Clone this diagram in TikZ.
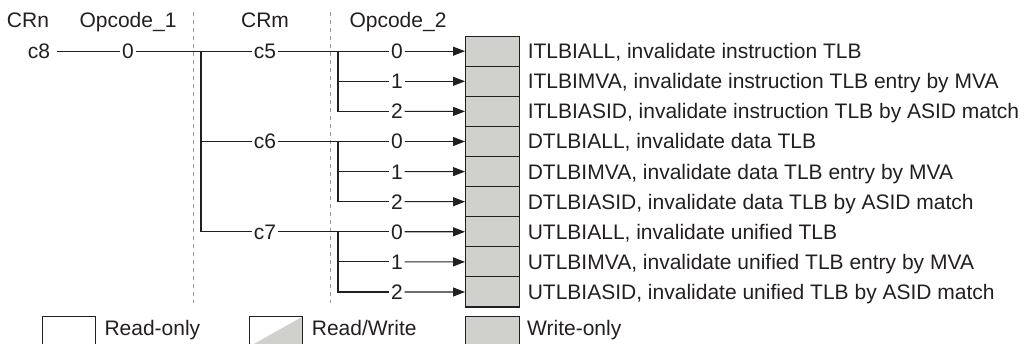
\documentclass[tikz,border=0pt]{standalone}
\usepackage{fontspec}
\setmainfont{Liberation Sans}
\usetikzlibrary{positioning, arrows.meta}

\definecolor{regfill}{RGB}{208,208,204}
\definecolor{ink}{RGB}{35,31,32}

\begin{document}
\begin{tikzpicture}[x=1pt,y=-1pt,
  every node/.style={font=\fontsize{21}{25}\selectfont, text=ink,
                     text height=15pt, text depth=0pt},
  wire/.style={draw=ink, line width=1.1pt},
  arr/.style={wire, -{Triangle[length=12pt,width=9pt]}},
  lbl/.style={inner xsep=1.5pt, inner ysep=0pt},
  cell/.style={draw=ink, line width=1.1pt, fill=regfill, inner sep=0pt,
               minimum width=53.5pt, minimum height=30.1pt},
  desc/.style={inner sep=0pt, anchor=west},
  col/.style={draw=gray!80, line width=0.9pt, dash pattern=on 4pt off 4pt}]
  \useasboundingbox (0,0) rectangle (1028,344);
  \clip (0,0) rectangle (1028,344);

  % column heads and separators
  \node (crn) at (28,20) {CRn};
  \node (opa) at (128,20) {Opcode\_1};
  \node (crm) at (265,20) {CRm};
  \node (opb) at (398,20) {Opcode\_2};
  \draw[col] (193,12) -- (193,303);
  \draw[col] (330,12) -- (330,303);

  % register cells
  \foreach \i in {1,...,9}
    \node[cell] (r\i) at (492.3,{51.2+30.1*(\i-1)}) {};
  \node[desc, right=8pt of r1] (d1) {ITLBIALL, invalidate instruction TLB};
  \node[desc, right=8pt of r2] (d2) {ITLBIMVA, invalidate instruction TLB entry by MVA};
  \node[desc, right=8pt of r3] (d3) {ITLBIASID, invalidate instruction TLB by ASID match};
  \node[desc, right=8pt of r4] (d4) {DTLBIALL, invalidate data TLB};
  \node[desc, right=8pt of r5] (d5) {DTLBIMVA, invalidate data TLB entry by MVA};
  \node[desc, right=8pt of r6] (d6) {DTLBIASID, invalidate data TLB by ASID match};
  \node[desc, right=8pt of r7] (d7) {UTLBIALL, invalidate unified TLB};
  \node[desc, right=8pt of r8] (d8) {UTLBIMVA, invalidate unified TLB entry by MVA};
  \node[desc, right=8pt of r9] (d9) {UTLBIASID, invalidate unified TLB by ASID match};

  % encoding labels
  \node[lbl, inner xsep=6.5pt] (c8) at (39,51.2) {c8};
  \node[lbl] (o1) at (128,51.2) {0};
  \node[lbl] (c5) at (265,51.2) {c5};
  \node[lbl] (c6) at (265,141.5) {c6};
  \node[lbl] (c7) at (265,231.8) {c7};
  \node[lbl] (a1) at (397,51.2) {0};
  \node[lbl] (a2) at (397,81.3) {1};
  \node[lbl] (a3) at (397,111.4) {2};
  \node[lbl] (a4) at (397,141.5) {0};
  \node[lbl] (a5) at (397,171.6) {1};
  \node[lbl] (a6) at (397,201.7) {2};
  \node[lbl] (a7) at (397,231.8) {0};
  \node[lbl] (a8) at (397,261.9) {1};
  \node[lbl] (a9) at (397,292.0) {2};

  \coordinate (j1) at (201,51.2);
  \coordinate (j2) at (201,141.5);
  \coordinate (k1) at (338,51.2);
  \coordinate (k2) at (338,81.3);
  \coordinate (k4) at (338,141.5);
  \coordinate (k5) at (338,171.6);
  \coordinate (k7) at (338,231.8);
  \coordinate (k8) at (338,261.9);

  % wiring
  \draw[wire] (c8) -- (o1) -- (c5) -- (a1);
  \draw[wire] (j1) |- (c7);
  \draw[wire] (j2) -- (c6);
  \draw[wire] (c6) -- (a4);
  \draw[wire] (c7) -- (a7);
  \draw[wire] (k1) |- (a3);
  \draw[wire] (k2) -- (a2);
  \draw[wire] (k4) |- (a6);
  \draw[wire] (k5) -- (a5);
  \draw[wire] (k7) |- (a9);
  \draw[wire] (k8) -- (a8);
  \foreach \i in {1,...,9}
    \draw[arr] (a\i) -- (r\i);

  % key
  \node[cell, fill=white] (ro) at (68.9,331.5) {};
  \node[desc] (rot) at (104.3,328) {Read-only};
  \node[cell, fill=white, path picture={
      \fill[regfill] (path picture bounding box.north east)
        -- (path picture bounding box.south east)
        -- (path picture bounding box.south west) -- cycle;}] (rw) at (276.1,331.5) {};
  \node[desc] (rwt) at (311.7,328) {Read/Write};
  \node[cell] (wo) at (492.3,331.5) {};
  \node[desc] (wot) at (527,328) {Write-only};
\end{tikzpicture}
\end{document}
